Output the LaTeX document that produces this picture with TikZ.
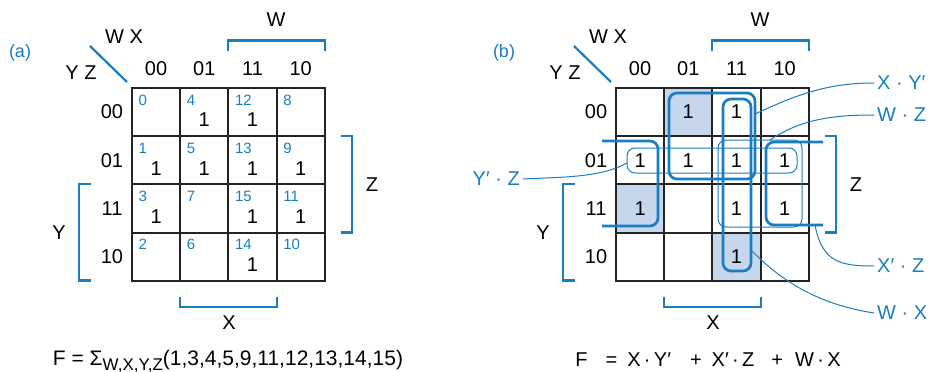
\documentclass[tikz,border=0pt]{standalone}
\usepackage{fontspec}
\setmainfont{Liberation Sans}
\definecolor{kblue}{RGB}{25,125,195}
\definecolor{kfill}{RGB}{198,214,236}
\definecolor{kgrid}{RGB}{35,35,35}
\begin{document}
\begin{tikzpicture}[x=1pt,y=-1pt,
  cell/.style={draw=kgrid,line width=1.9pt,minimum size=48.2pt,inner sep=0pt},
  hdr/.style={font=\fontsize{20}{24}\selectfont,inner sep=0pt},
  mint/.style={font=\fontsize{15}{18}\selectfont,text=kblue,inner sep=0pt,anchor=west},
  one/.style={font=\fontsize{20}{24}\selectfont,inner sep=0pt},
  lbl/.style={font=\fontsize{20}{24}\selectfont,text=kblue,inner sep=3pt},
  tag/.style={font=\fontsize{18}{22}\selectfont,text=kblue,inner sep=0pt},
  brk/.style={draw=kblue,line width=2.7pt},
  diag/.style={draw=kblue,line width=2.2pt},
  loopA/.style={draw=kblue,line width=2.7pt,rounded corners=8pt},
  loopB/.style={draw=kblue,line width=1pt,rounded corners=8pt},
  callout/.style={draw=kblue,line width=1pt}]
\useasboundingbox (0,0) rectangle (930,372);
% shaded cells (right map)
\fill[kfill] ({616+48.2},88) rectangle ++(48.2,48.2);
\fill[kfill] (616,{88+2*48.2}) rectangle ++(48.2,48.2);
\fill[kfill] ({616+2*48.2},{88+3*48.2}) rectangle ++(48.2,48.2);
\foreach \p/\dx/\t in {L/0/a,R/484/b}{
  \foreach \r in {0,...,3}{\foreach \c in {0,...,3}{
    \node[cell] (\p\r\c) at ({132+\dx+(\c+0.5)*48.2},{88+(\r+0.5)*48.2}) {};}}
  \foreach \lab [count=\i from 0] in {00,01,11,10}{
    \node[hdr] (\p col\i) at ({132+\dx+(\i+0.5)*48.2},69) {\lab};
    \node[hdr] (\p row\i) at ({112+\dx},{88+(\i+0.5)*48.2}) {\lab};}
  \node[hdr] (\p wx) at ({124+\dx},37) {W X};
  \node[hdr] (\p yz) at ({81+\dx},73) {Y Z};
  \draw[diag] ({90+\dx},46) -- ({127+\dx},82);
  \node[tag] (\p tag) at ({20+\dx},53) {(\t)};
  % brackets
  \draw[brk] ({228+\dx},51) -- ({228+\dx},40.7) -- ({325+\dx},40.7) -- ({325+\dx},51);
  \node[hdr] (\p W) at ({276+\dx},20) {W};
  \draw[brk] ({340.5+\dx},136) -- ({352+\dx},136) -- ({352+\dx},232.3) -- ({340.5+\dx},232.3);
  \node[hdr] (\p Z) at ({372+\dx},185) {Z};
  \draw[brk] ({90.5+\dx},184) -- ({79+\dx},184) -- ({79+\dx},280.3) -- ({90.5+\dx},280.3);
  \node[hdr] (\p Y) at ({59+\dx},233) {Y};
  \draw[brk] ({180+\dx},296.5) -- ({180+\dx},307) -- ({277+\dx},307) -- ({277+\dx},296.5);
  \node[hdr] (\p X) at ({229+\dx},323) {X};
}
% left map contents
\foreach \r/\c/\m/\o in {0/0/0/0,0/1/4/1,0/2/12/1,0/3/8/0,
  1/0/1/1,1/1/5/1,1/2/13/1,1/3/9/1,
  2/0/3/1,2/1/7/0,2/2/15/1,2/3/11/1,
  3/0/2/0,3/1/6/0,3/2/14/1,3/3/10/0}{
  \node[mint] (Lm\m) at ({132+\c*48.2+6.5},{88+\r*48.2+12}) {\m};
  \ifnum\o=1 \node[one] (Lo\m) at ({132+(\c+0.5)*48.2},{88+\r*48.2+32}) {1};\fi
}
% right map loops
\draw[loopB] (718,140) rectangle (802,227);
\draw[loopB] (627,148) rectangle (797,173);
\draw[loopA] (669,93) rectangle (755,179);
\draw[loopA] (723,99) rectangle (751,271);
\draw[loopA] (602,141) -- (658,141) -- (658,226) -- (602,226);
\draw[loopA] (823,142) -- (766,142) -- (766,225) -- (823,225);
% right map ones
\foreach \r/\c in {0/1,0/2,1/0,1/1,1/2,1/3,2/0,2/2,2/3,3/2}{
  \node[one] (Ro\r\c) at ({616+(\c+0.5)*48.2},{88+(\r+0.5)*48.2}) {1};
}
% callout labels
\node[lbl,anchor=west] (lXY) at (874,83) {X · Y′};
\node[lbl,anchor=west] (lWZ) at (874,115) {W · Z};
\node[lbl,anchor=west] (lXZ) at (874,266) {X′ · Z};
\node[lbl,anchor=west] (lWX) at (874,313) {W · X};
\node[lbl,anchor=east] (lYZ) at (523,179) {Y′ · Z};
\coordinate (cXY) at (755,114);
\coordinate (cWZ) at (770,140);
\coordinate (cXZ) at (815,225);
\coordinate (cWX) at (751,250);
\coordinate (cYZ) at (627,163);
\draw[callout] (cXY) .. controls (800,93) and (830,83) .. (lXY.west);
\draw[callout] (cWZ) .. controls (800,120) and (830,115) .. (lWZ.west);
\draw[callout] (cXZ) .. controls (822,262) and (840,266) .. (lXZ.west);
\draw[callout] (cWX) .. controls (790,290) and (830,306) .. (lWX.west);
\draw[callout] (cYZ) .. controls (600,178) and (560,177) .. (lYZ.east);
% formulas
\node[inner sep=0pt,anchor=base,font=\fontsize{21}{24}\selectfont] (fL) at (228,365.5)
  {F = Σ\raisebox{-4.5pt}{\fontsize{17}{18}\selectfont W,X,Y,Z}(1,3,4,5,9,11,12,13,14,15)};
\node[inner sep=0pt,anchor=base,font=\fontsize{20}{24}\selectfont] (fR) at (708,366)
  {F\hspace{18pt}=\hspace{10pt}X\,·\,Y′\hspace{19pt}+\hspace{10pt}X′\,·\,Z\hspace{17pt}+\hspace{12pt}W\,·\,X};
\end{tikzpicture}
\end{document}
